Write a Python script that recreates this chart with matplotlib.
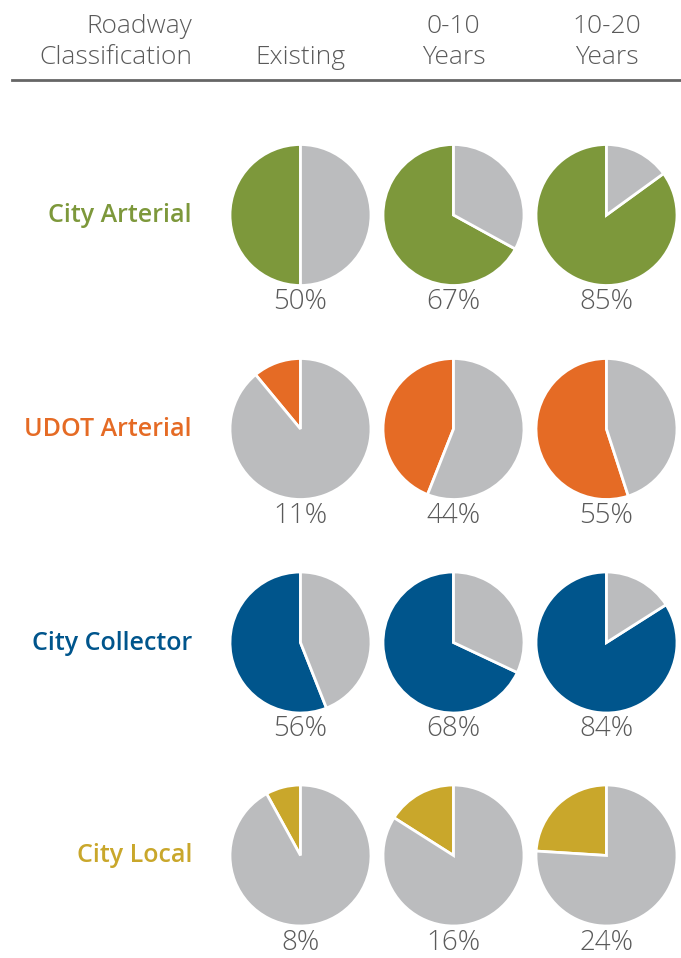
import matplotlib.pyplot as plt

# share of each roadway class (percent) for each planning horizon
categories = ["City Arterial", "UDOT Arterial", "City Collector", "City Local"]
periods = [("", "Existing"), ("0-10", "Years"), ("10-20", "Years")]
city_arterial = [50, 67, 85]
udot_arterial = [11, 44, 55]
city_collector = [56, 68, 84]
city_local = [8, 16, 24]
shares = [city_arterial, udot_arterial, city_collector, city_local]
colors = ["#7D983B", "#E56B25", "#00558C", "#C9A72B"]

GRAY = "#BBBCBE"
TEXT = "#5A5A5A"
W, H = 681, 958

plt.rcParams['font.family'] = ['Open Sans', 'DejaVu Sans']

fig = plt.figure(figsize=(W / 100, H / 100), dpi=100)
ax = fig.add_axes([0, 0, 1, 1])

col_x = [300.5, 453.5, 606.5]
row_y = [215, 429, 642.5, 855.5]
radius = 70.5

for i, (name, vals, c) in enumerate(zip(categories, shares, colors)):
    cy = H - row_y[i]
    for j, v in enumerate(vals):
        cx = col_x[j]
        ax.pie([v, 100 - v], colors=[c, GRAY], startangle=90, counterclock=True,
               center=(cx, cy), radius=radius,
               wedgeprops=dict(edgecolor="white", linewidth=2))
        ax.text(cx, cy - 94, f"{v}%", ha="center", va="baseline",
                fontsize=20, color=TEXT, fontweight="light")
    ax.text(192, cy - 7, name, ha="right", va="baseline", fontsize=18,
            color=c, fontweight="semibold")


def header(x, top, bottom, ha):
    # two-line column heading, baselines at 33 px and 64 px from the top
    for txt, base in ((top, 33), (bottom, 64)):
        if txt:
            ax.text(x, H - base, txt, ha=ha, va="baseline", fontsize=19,
                    color=TEXT, fontweight="light")


header(192, "Roadway", "Classification", "right")
for j, (top, bottom) in enumerate(periods):
    header(col_x[j], top, bottom, "center")
ax.plot([12, W], [H - 80, H - 80], color="#666666", lw=2)

ax.set_xlim(0, W)
ax.set_ylim(0, H)
ax.set_aspect("equal")
ax.axis("off")

fig.savefig("out.png", dpi=100)
